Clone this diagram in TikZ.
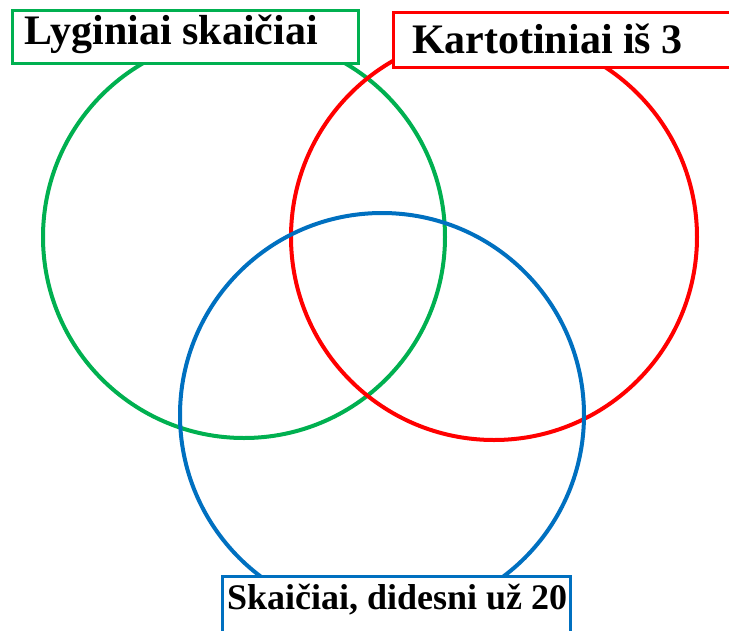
\documentclass[tikz,border=0pt]{standalone}
\usepackage{fontspec}
\setmainfont{Liberation Serif}
\definecolor{vgreen}{RGB}{0,176,80}
\definecolor{vred}{RGB}{255,0,0}
\definecolor{vblue}{RGB}{0,112,192}
\begin{document}
\begin{tikzpicture}[x=1pt,y=-1pt,
  ring/.style={circle,draw=#1,line width=4pt,inner sep=0pt,outer sep=0pt},
  setbox/.style={rectangle,draw=#1,fill=white,line width=3pt,inner sep=0pt,outer sep=0pt,font=\bfseries},
]
\useasboundingbox (0,0) rectangle (729,630);
\fill[white] (0,0) rectangle (729,630);
\node[ring=vgreen,minimum size=402pt] (G) at (244,237) {};
\node[ring=vred,minimum size=406pt] (R) at (494,237) {};
\node[ring=vblue,minimum size=404pt] (B) at (382,415) {};
\node[setbox=vgreen,anchor=north west,text height=34pt,text depth=19pt] (gl) at (12,10)
  {\fontsize{42}{50}\selectfont\makebox[346pt][l]{\hspace*{13pt}Lyginiai skaičiai}};
\node[setbox=vred,anchor=north west,text height=41pt,text depth=14pt] (rl) at (393,12)
  {\fontsize{42}{50}\selectfont\makebox[360pt][l]{\hspace*{19pt}Kartotiniai iš 3}};
\node[setbox=vblue,anchor=north west,text height=33pt,text depth=40pt] (bl) at (222,576)
  {\fontsize{36}{44}\selectfont\makebox[348pt][l]{\hspace*{5pt}Skaičiai, didesni už 20}};
\end{tikzpicture}
\end{document}
